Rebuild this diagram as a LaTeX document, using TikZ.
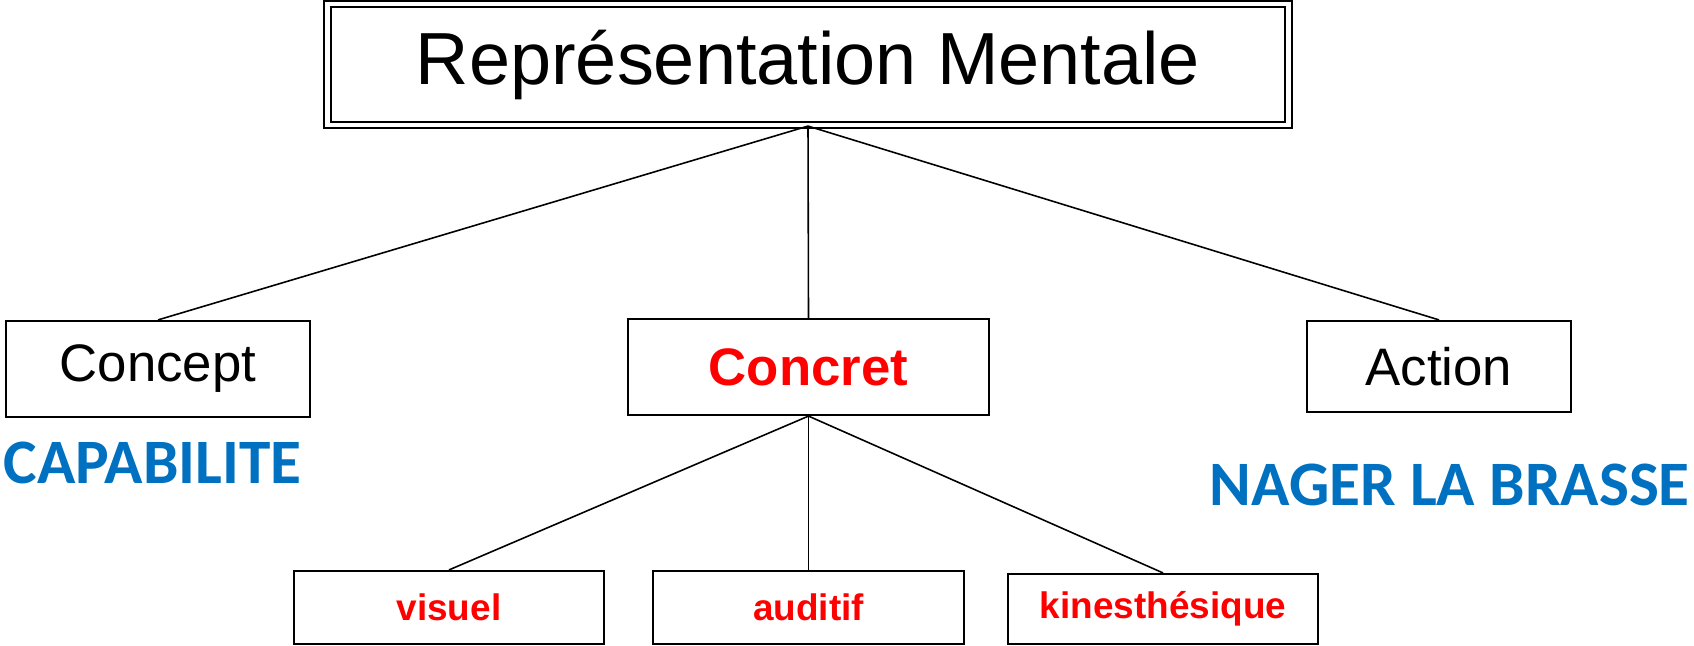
\documentclass[tikz,border=0pt]{standalone}
\usepackage{fontspec}
\setmainfont{Liberation Sans}
\newfontfamily\calibfont{Carlito}
\definecolor{tagblue}{RGB}{0,112,192}
\begin{document}
\begin{tikzpicture}[x=0.01cm, y=-0.01cm,
    box/.style={draw, line width=0.6pt, inner sep=0pt, align=center},
    mainbox/.style={box, font=\fontsize{15}{18}\selectfont},
    subbox/.style={box, minimum width=3.1cm, font=\fontsize{10.5}{12}\selectfont\bfseries, text=red},
    link/.style={line width=0.45pt},
    tag/.style={text=tagblue, font=\calibfont\bfseries\fontsize{18}{21}\selectfont, inner sep=0pt}]

    \useasboundingbox (0,0) rectangle (1694,646);

    % top node
    \node[box, double, double distance=1.3pt, minimum width=9.6cm, minimum height=1.21cm,
          font=\fontsize{21}{25}\selectfont] (repr) at (808,64.5) {Représentation Mentale};

    % middle row
    \node[mainbox, minimum width=3.03cm, minimum height=0.96cm] (concept) at (158,369) {Concept};
    \node[mainbox, minimum width=3.61cm, minimum height=0.96cm, text=red, font=\fontsize{15}{18}\selectfont\bfseries] (concret) at (808.5,367) {Concret};
    \node[mainbox, minimum width=2.64cm, minimum height=0.91cm] (action) at (1439,366.5) {Action};

    % bottom row
    \node[subbox, minimum height=0.73cm] (visuel) at (449,607.5) {visuel};
    \node[subbox, minimum height=0.73cm] (auditif) at (808.5,607.5) {auditif};
    \node[subbox, minimum height=0.70cm] (kine) at (1163,609) {kinesthésique};

    % blue labels
    \node[tag, anchor=base west] (capa) at (3,483) {CAPABILITE};
    \node[tag, anchor=base west] (nager) at (1209,505) {NAGER LA BRASSE};

    % links
    \draw[link] (repr.south) -- (concept.north);
    \draw[link] (repr.south) -- (concret.north);
    \draw[link] (repr.south) -- (action.north);
    \draw[link] (concret.south) -- (visuel.north);
    \draw[link] (concret.south) -- (auditif.north);
    \draw[link] (concret.south) -- (kine.north);

\end{tikzpicture}
\end{document}
